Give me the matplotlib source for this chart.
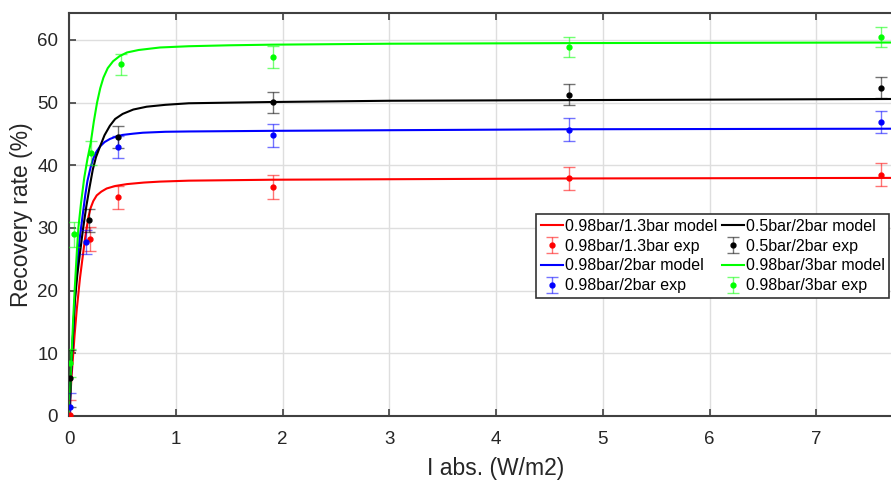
import matplotlib
matplotlib.use("Agg")
import matplotlib.pyplot as plt

plt.rcParams['font.family'] = ['Liberation Sans', 'DejaVu Sans']

# experimental points (x, y, error)
red_x = [0.005, 0.19, 0.456, 1.906, 4.68, 7.61]
red_y = [0.2, 28.2, 34.9, 36.5, 37.9, 38.5]
red_e = [2.3, 1.9, 1.8, 1.9, 1.9, 1.8]

blue_x = [0.005, 0.157, 0.456, 1.906, 4.68, 7.61]
blue_y = [1.5, 27.7, 42.9, 44.8, 45.7, 46.9]
blue_e = [2.2, 1.9, 1.8, 1.8, 1.8, 1.7]

black_x = [0.01, 0.18, 0.456, 1.906, 4.68, 7.61]
black_y = [6.0, 31.2, 44.5, 50.05, 51.25, 52.4]
black_e = [4.6, 1.8, 1.8, 1.7, 1.65, 1.7]

green_x = [0.008, 0.044, 0.2, 0.485, 1.906, 4.68, 7.61]
green_y = [8.5, 29.0, 41.9, 56.1, 57.3, 58.9, 60.4]
green_e = [2.2, 2.0, 1.9, 1.7, 1.8, 1.65, 1.6]

# model curves
red_mx = [0, 0.01, 0.02, 0.035, 0.05, 0.07, 0.085, 0.1, 0.115, 0.13, 0.145, 0.163, 0.18,
          0.2, 0.225, 0.257, 0.3, 0.35, 0.43, 0.54, 0.7, 0.85, 1.12, 1.9, 4.7, 8.0]
red_my = [0, 3, 6, 9.5, 13, 17, 19.5, 22, 24, 26, 28, 30, 31.8,
          33.2, 34.3, 35.2, 35.8, 36.3, 36.7, 37.0, 37.25, 37.4, 37.55, 37.7, 37.9, 38.0]

blue_mx = [0, 0.01, 0.02, 0.035, 0.05, 0.065, 0.08, 0.095, 0.11, 0.131, 0.15, 0.17, 0.2,
           0.225, 0.255, 0.288, 0.33, 0.38, 0.44, 0.5, 0.6, 0.69, 0.9, 1.12, 1.9, 4.7, 8.0]
blue_my = [0, 4, 8, 13, 18, 22, 25, 28, 30, 32.8, 35.3, 37.5, 39.7,
           41.1, 42.2, 43.0, 43.7, 44.2, 44.6, 44.85, 45.05, 45.2, 45.35, 45.4, 45.5, 45.75, 45.85]

black_mx = [0, 0.01, 0.02, 0.035, 0.05, 0.075, 0.1, 0.13, 0.16, 0.19, 0.22, 0.25, 0.288,
            0.33, 0.38, 0.43, 0.5, 0.6, 0.725, 0.9, 1.12, 1.5, 1.9, 3.0, 4.7, 8.0]
black_my = [0, 4, 8, 13, 18, 22.5, 26, 30, 33.5, 36.5, 39.3, 41.3, 43.0,
            44.8, 46.3, 47.4, 48.2, 48.9, 49.35, 49.65, 49.9, 50.0, 50.1, 50.3, 50.4, 50.6]

green_mx = [0, 0.01, 0.02, 0.035, 0.05, 0.07, 0.085, 0.11, 0.14, 0.17, 0.2, 0.23, 0.26,
            0.29, 0.32, 0.36, 0.41, 0.47, 0.54, 0.65, 0.85, 1.12, 1.5, 1.9, 3.0, 4.7, 8.0]
green_my = [0, 5, 9, 15, 20, 26, 30, 34, 38, 41, 43.5, 47, 50,
            52.3, 54.0, 55.5, 56.6, 57.4, 58.0, 58.4, 58.8, 59.0, 59.15, 59.25, 59.4, 59.5, 59.6]

series = [
    ("0.98bar/1.3bar", (1, 0, 0), red_mx, red_my, red_x, red_y, red_e),
    ("0.98bar/2bar", (0, 0, 1), blue_mx, blue_my, blue_x, blue_y, blue_e),
    ("0.5bar/2bar", (0, 0, 0), black_mx, black_my, black_x, black_y, black_e),
    ("0.98bar/3bar", (0, 1, 0), green_mx, green_my, green_x, green_y, green_e),
]

fig = plt.figure(figsize=(8.91, 4.82), dpi=100)
# the axes run past the right edge of the picture, as in the original crop
ax = fig.add_axes([69.3 / 891, 1 - 416 / 482, 853.6 / 891, (416 - 12.7) / 482])

handles = []
for name, col, mx, my, ex, ey, ee in series:
    ln, = ax.plot(mx, my, color=col, lw=1.5, label=name + " model", zorder=3)
    eb = ax.errorbar(ex, ey, yerr=ee, fmt='o', color=col, ms=3.5, capsize=4,
                     elinewidth=1, capthick=1, ecolor=col,
                     label=name + " exp", zorder=4)
    for c in eb[1]:
        c.set_alpha(0.55)
    for c in eb[2]:
        c.set_alpha(0.55)
    handles.append((ln, eb))

ax.set_xlim(0, 8)
ax.set_ylim(0, 64.35)
ax.set_xticks(range(0, 8))
ax.set_yticks(range(0, 61, 10))
ax.grid(True, color=(0.87, 0.87, 0.87), lw=1)
ax.set_axisbelow(True)
for s in ax.spines.values():
    s.set_color((0.25, 0.25, 0.25))
    s.set_linewidth(1.5)
ax.tick_params(direction='in', top=True, right=True, length=5, width=1.2,
               labelsize=13.5, colors=(0.25, 0.25, 0.25), labelcolor=(0.15, 0.15, 0.15))
ax.tick_params(axis='x', pad=11)
ax.tick_params(axis='y', pad=8)
ax.set_xlabel("I abs. (W/m2)", fontsize=16.5, color=(0.15, 0.15, 0.15), labelpad=6)
ax.set_ylabel("Recovery rate (%)", fontsize=16.5, color=(0.15, 0.15, 0.15), labelpad=3)

order = [h for pair in handles for h in pair]
labels = [h.get_label() for h in order]
leg = ax.legend(order, labels, ncol=2, loc='upper left',
                bbox_to_anchor=((536 - 69.3) / 853.6, (416 - 214) / 403.3),
                fontsize=11.5, frameon=True, fancybox=False, framealpha=1,
                edgecolor=(0.2, 0.2, 0.2), handlelength=1.4, handletextpad=0.1,
                labelspacing=0.3, columnspacing=0.3, borderpad=0.3,
                borderaxespad=0)
leg.get_frame().set_linewidth(1.2)

fig.savefig("out.png", dpi=100)
